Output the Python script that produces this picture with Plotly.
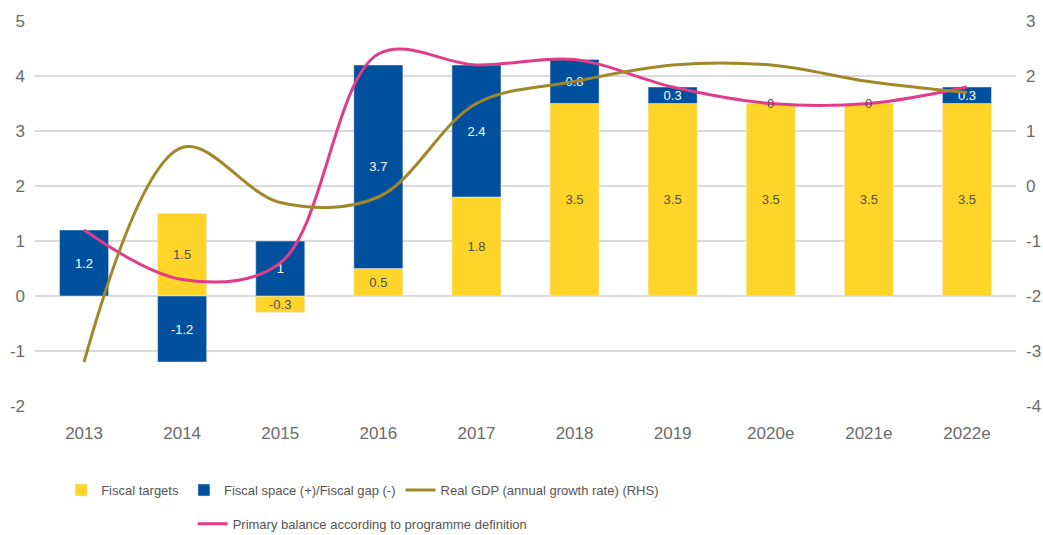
import plotly.graph_objects as go

years = ['2013', '2014', '2015', '2016', '2017', '2018', '2019', '2020e', '2021e', '2022e']
fiscal_targets = [0, 1.5, -0.3, 0.5, 1.8, 3.5, 3.5, 3.5, 3.5, 3.5]
fiscal_space = [1.2, -1.2, 1, 3.7, 2.4, 0.8, 0.3, 0, 0, 0.3]
real_gdp = [-3.2, 0.7, -0.3, -0.2, 1.5, 1.9, 2.2, 2.2, 1.9, 1.7]
primary_balance = [1.2, 0.3, 0.6, 4.4, 4.2, 4.3, 3.8, 3.5, 3.5, 3.8]

left_ticks = [-2, -1, 0, 1, 2, 3, 4, 5]
right_ticks = [-4, -3, -2, -1, 0, 1, 2, 3]

YELLOW = '#FFD529'
BLUE = '#00509E'
GOLD = '#A2872A'
PINK = '#E03C8A'
GRID = '#DADADA'
TICK = '#6B6B6B'

label_font = 'Liberation Sans, Arial, sans-serif'


def fmt(v):
    return '' if v == 0 else ('%g' % v)


fig = go.Figure()

fig.add_trace(go.Bar(x=years, y=fiscal_targets, name='Fiscal targets', marker=dict(color=YELLOW),
                     text=[fmt(v) for v in fiscal_targets], textposition='inside',
                     insidetextanchor='middle', constraintext='none',
                     textfont=dict(color='#505050', size=13, family=label_font),
                     width=0.5, legend='legend'))
fig.add_trace(go.Bar(x=years, y=fiscal_space, name='Fiscal space (+)/Fiscal gap (-)', marker=dict(color=BLUE),
                     text=[fmt(v) for v in fiscal_space], textposition='inside',
                     insidetextanchor='middle', constraintext='none',
                     textfont=dict(color='white', size=13, family=label_font),
                     width=0.5, legend='legend'))

fig.add_trace(go.Scatter(x=years, y=real_gdp, mode='lines', name='Real GDP (annual growth rate) (RHS)',
                         line=dict(color=GOLD, width=3, shape='spline', smoothing=1), yaxis='y2', legend='legend'))
fig.add_trace(go.Scatter(x=years, y=primary_balance, mode='lines', name='Primary balance according to programme definition',
                         line=dict(color=PINK, width=3, shape='spline', smoothing=1), legend='legend2'))

# zero-height blue segments still carry a "0" label
for yr, t, s in zip(years, fiscal_targets, fiscal_space):
    if s == 0:
        fig.add_annotation(x=yr, y=t + s, text='0', showarrow=False,
                           font=dict(color='#505050', size=13, family=label_font))

fig.update_layout(
    width=1043, height=535,
    margin=dict(l=35, r=27, t=21, b=129, autoexpand=False),
    plot_bgcolor='white', paper_bgcolor='white',
    barmode='relative', bargap=0.5,
    font=dict(family=label_font, color=TICK),
    xaxis=dict(range=[-0.5, 9.5], showgrid=False, showline=False, ticks='', automargin=False,
               tickfont=dict(size=17, color=TICK), ticklabelstandoff=15),
    yaxis=dict(range=[-2, 5], tickvals=left_ticks, ticktext=[str(v) for v in left_ticks],
               gridcolor=GRID, gridwidth=2, zeroline=False, automargin=False,
               tickfont=dict(size=17, color=TICK), ticklabelstandoff=9),
    yaxis2=dict(range=[-4, 3], tickvals=right_ticks, ticktext=[str(v) for v in right_ticks],
                overlaying='y', side='right', showgrid=False, zeroline=False, automargin=False,
                tickfont=dict(size=17, color=TICK), ticklabelstandoff=9),
    legend=dict(orientation='h', x=0.334, xanchor='center', yref='container', y=0.084, yanchor='middle',
                font=dict(size=13, color='#555555', family=label_font), traceorder='normal',
                itemwidth=30),
    legend2=dict(orientation='h', x=0.334, xanchor='center', yref='container', y=0.021, yanchor='middle',
                 font=dict(size=13, color='#555555', family=label_font), itemwidth=30),
)

fig.write_html('out.html', config={'displayModeBar': False},
               post_script="document.body.style.margin='0px';")
